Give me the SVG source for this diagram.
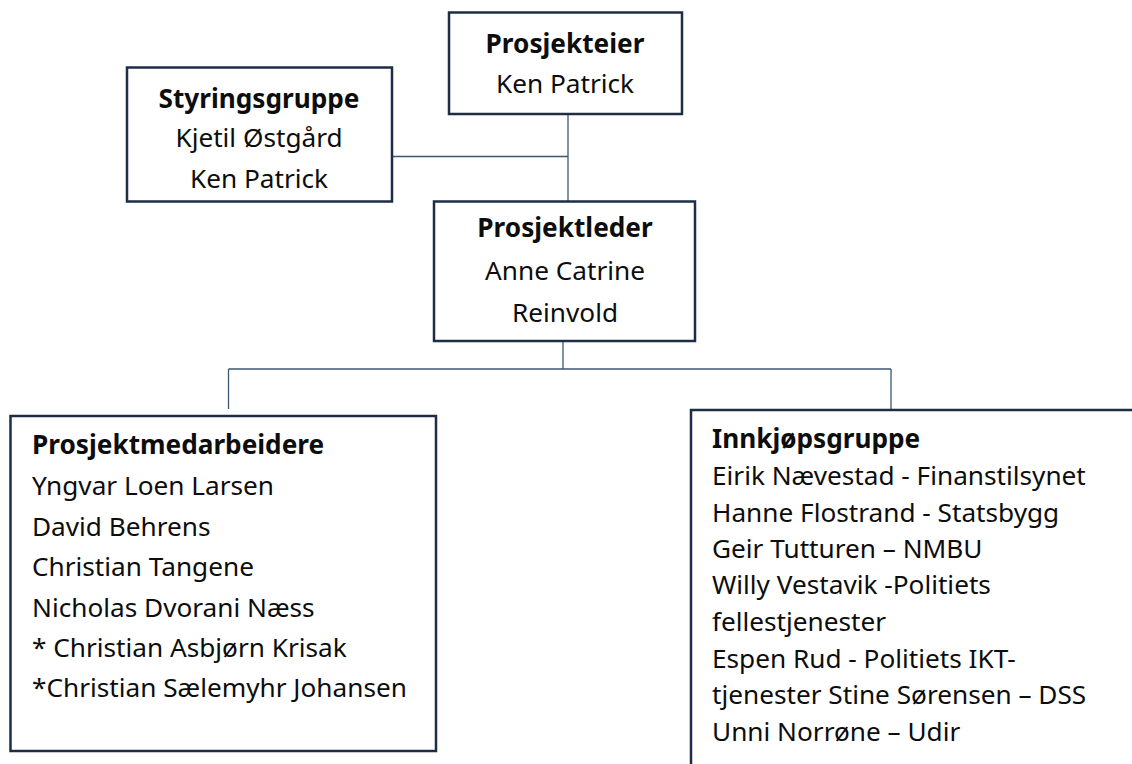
<svg xmlns="http://www.w3.org/2000/svg" width="1132" height="764" viewBox="0 0 1132 764">
<style>
.box{fill:#ffffff;stroke:#1c2d45;stroke-width:2.5}
.conn{fill:none;stroke:#3d5670;stroke-width:1.3}
text{font-family:"Noto Sans","Open Sans",sans-serif;font-size:26.2px;fill:#0d0d0d}
.b{font-weight:bold}
.c{text-anchor:middle}
</style>
<rect width="1132" height="764" fill="#ffffff"/>
<g id="connectors">
<line class="conn" x1="568" y1="114" x2="568" y2="201"/>
<line class="conn" x1="392" y1="156.5" x2="568" y2="156.5"/>
<line class="conn" x1="563" y1="341" x2="563" y2="369"/>
<line class="conn" x1="228.5" y1="369" x2="891" y2="369"/>
<line class="conn" x1="228.5" y1="369" x2="228.5" y2="409"/>
<line class="conn" x1="891" y1="369" x2="891" y2="409"/>
</g>
<g id="prosjekteier">
<rect class="box" x="449" y="12.5" width="233" height="101.5"/>
<text class="b c" x="565" y="53">Prosjekteier</text>
<text class="c" x="565" y="93">Ken Patrick</text>
</g>
<g id="styringsgruppe">
<rect class="box" x="127" y="67.5" width="265" height="134"/>
<text class="b c" x="259" y="108">Styringsgruppe</text>
<text class="c" x="259" y="147">Kjetil Østgård</text>
<text class="c" x="259" y="188">Ken Patrick</text>
</g>
<g id="prosjektleder">
<rect class="box" x="434" y="201.5" width="261" height="139.5"/>
<text class="b c" x="565" y="237">Prosjektleder</text>
<text class="c" x="565" y="280">Anne Catrine</text>
<text class="c" x="565" y="322">Reinvold</text>
</g>
<g id="prosjektmedarbeidere">
<rect class="box" x="10.5" y="416" width="425.5" height="335"/>
<text class="b" x="32" y="454">Prosjektmedarbeidere</text>
<text x="32" y="495">Yngvar Loen Larsen</text>
<text x="32" y="536">David Behrens</text>
<text x="32" y="576">Christian Tangene</text>
<text x="32" y="617">Nicholas Dvorani Næss</text>
<text x="32" y="657">* Christian Asbjørn Krisak</text>
<text x="32" y="697">*Christian Sælemyhr Johansen</text>
</g>
<g id="innkjopsgruppe">
<rect class="box" x="691" y="410" width="500" height="400"/>
<text class="b" x="712" y="448">Innkjøpsgruppe</text>
<text x="712" y="485">Eirik Nævestad - Finanstilsynet</text>
<text x="712" y="522">Hanne Flostrand - Statsbygg</text>
<text x="712" y="558">Geir Tutturen – NMBU</text>
<text x="712" y="594">Willy Vestavik -Politiets</text>
<text x="712" y="631">fellestjenester</text>
<text x="712" y="668">Espen Rud - Politiets IKT-</text>
<text x="712" y="704">tjenester Stine Sørensen – DSS</text>
<text x="712" y="741">Unni Norrøne – Udir</text>
</g>
</svg>
